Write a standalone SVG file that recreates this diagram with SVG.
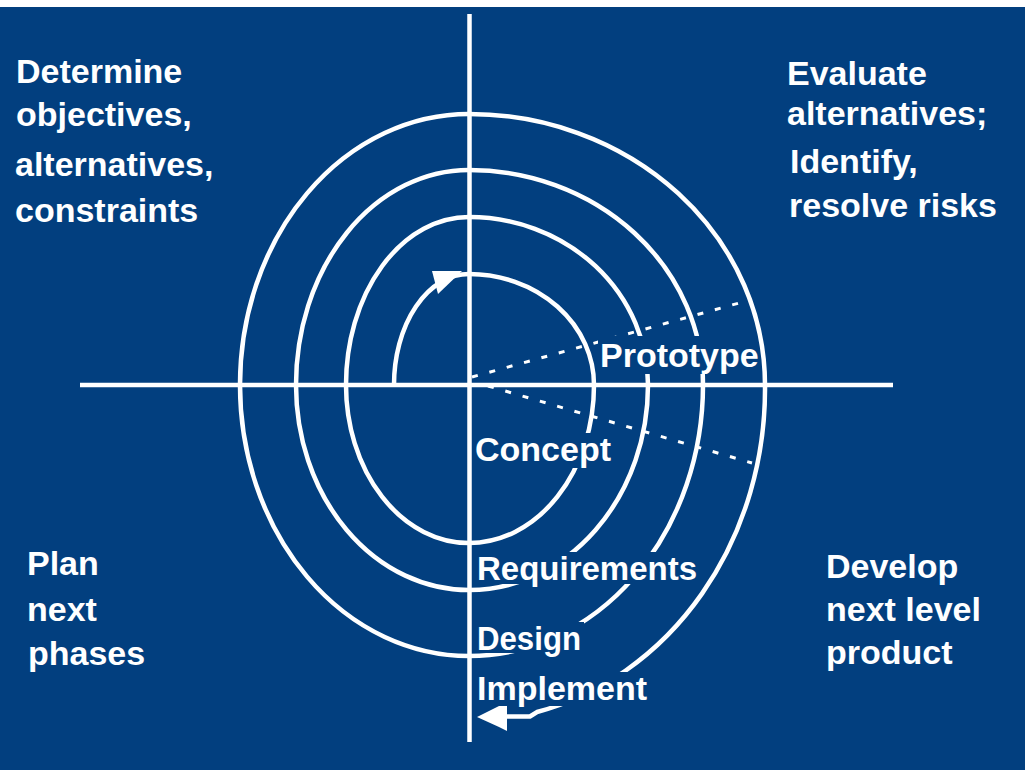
<svg xmlns="http://www.w3.org/2000/svg" width="1025" height="770" viewBox="0 0 1025 770">
<style>
.bg{fill:#023f7f}
.ln{fill:none;stroke:#fff;stroke-width:4.5}
.ax{fill:none;stroke:#fff;stroke-width:4.5}
.dot{fill:none;stroke:#fff;stroke-width:3;stroke-dasharray:6 12}
.t{font-family:"Liberation Sans",Arial,sans-serif;font-weight:bold;font-size:34px;fill:#fff}
.lb{fill:#023f7f}
.ah{fill:#fff}
</style>
<rect x="0" y="0" width="1025" height="770" fill="#fff"/>
<rect class="bg" x="0" y="7" width="1025" height="763"/>
<g id="connectors">
<path id="spiral" class="ln" d="M 394 385 A 75 111 0 0 1 469 274 A 125 111 0 0 1 594 385 A 125 158 0 0 1 469 543 A 123 158 0 0 1 346 385 A 123 168 0 0 1 469 217 A 179 168 0 0 1 648 385 A 179 205 0 0 1 469 590 A 173 205 0 0 1 296 385 A 173 215 0 0 1 469 170 A 234 215 0 0 1 703 385 A 234 271 0 0 1 469 656 A 229 271 0 0 1 240 385 A 229 271 0 0 1 469 114 A 296 271 0 0 1 765 385 A 296 332 0 0 1 537 712 L 530 716.5 L 490 716.5"/>
<polygon class="ah" points="432,271 462,271 438,294"/>
<polygon class="ah" points="477,717 499,706 507,703 507,731 499,727"/>
<line class="dot" x1="472" y1="377" x2="750" y2="300"/>
<line class="dot" x1="488" y1="386" x2="752" y2="463"/>
</g>
<g id="axes">
<line class="ax" x1="80" y1="385" x2="893" y2="385"/>
<line class="ax" x1="469.5" y1="14" x2="469.5" y2="742"/>
</g>
<g id="q1"><text class="t" x="16" y="83">Determine</text><text class="t" x="16" y="126">objectives,</text><text class="t" x="15" y="176">alternatives,</text><text class="t" x="15" y="222">constraints</text></g>
<g id="q2"><text class="t" x="787" y="85">Evaluate</text><text class="t" x="787" y="125">alternatives;</text><text class="t" x="790" y="173">Identify,</text><text class="t" x="789" y="217">resolve risks</text></g>
<g id="q3"><text class="t" x="27" y="575">Plan</text><text class="t" x="27" y="621">next</text><text class="t" x="28" y="665">phases</text></g>
<g id="q4"><text class="t" x="826" y="578">Develop</text><text class="t" x="826" y="621">next level</text><text class="t" x="826" y="664">product</text></g>
<g id="prototype"><rect class="lb" x="598" y="336" width="159" height="38"/><text class="t" x="600" y="367">Prototype</text></g>
<g id="concept"><rect class="lb" x="474" y="433" width="136" height="35"/><text class="t" x="475" y="461">Concept</text></g>
<g id="requirements"><rect class="lb" x="474" y="552" width="226" height="32"/><text class="t" x="477" y="580" textLength="220" lengthAdjust="spacingAndGlyphs">Requirements</text></g>
<g id="design"><rect class="lb" x="474" y="622" width="110" height="31"/><text class="t" x="477" y="650" textLength="104" lengthAdjust="spacingAndGlyphs">Design</text></g>
<g id="implement"><rect class="lb" x="474" y="672" width="178" height="34"/><text class="t" x="477" y="700">Implement</text></g>
</svg>
